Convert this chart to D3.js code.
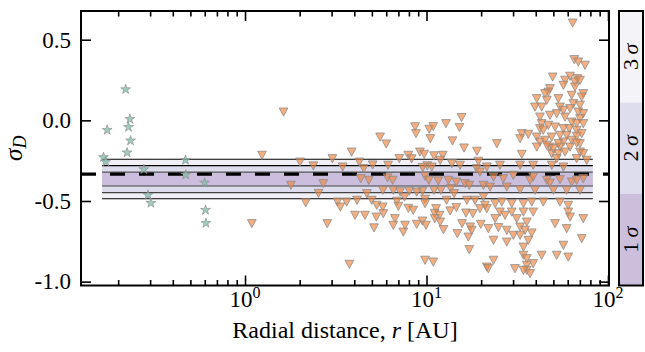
<!DOCTYPE html>
<html><head><meta charset="utf-8">
<script src="https://cdn.jsdelivr.net/npm/d3@7/dist/d3.min.js"></script>
<style>body{margin:0;background:#fff} svg{display:block}</style>
</head><body><svg id="c" width="645" height="352"></svg>
<script>
// ---------- data ----------
const starPoints = [
  [0.220, 0.192],[0.232, 0.008],[0.228,-0.042],[0.174,-0.060],[0.234,-0.126],
  [0.224,-0.200],[0.166,-0.229],[0.171,-0.257],[0.277,-0.304],[0.470,-0.246],
  [0.472,-0.337],[0.599,-0.387],[0.292,-0.463],[0.303,-0.513],[0.606,-0.556],[0.609,-0.637]
];
const trianglePoints = [
  [1.63,0.053],[1.24,-0.215],[2.01,-0.257],[2.38,-0.281],[3.03,-0.236],[3.87,-0.195],
  [1.79,-0.401],[2.70,-0.391],[2.54,-0.451],[2.16,-0.510],[1.09,-0.639],[2.84,-0.639],
  [3.23,-0.505],[3.35,-0.536],[3.63,-0.505],[4.14,-0.494],[4.04,-0.587],[4.58,-0.587],
  [3.45,-0.288],[4.26,-0.257],[4.51,-0.298],[4.34,-0.360],[4.81,-0.370],[5.05,-0.275],
  [3.76,-0.891],[4.69,-0.453],[4.99,-0.494],[5.29,-0.598],[5.14,-0.665],[5.32,-0.525],
  [5.55,-0.102],[6.00,-0.145],[5.78,-0.577],[5.74,-0.536],[6.14,-0.277],[6.10,-0.355],
  [6.51,-0.370],[5.75,-0.432],[6.70,-0.608],[6.56,-0.649],[7.45,-0.691],[7.62,-0.649],
  [7.08,-0.236],[7.94,-0.215],[8.28,-0.237],[8.65,-0.038],[8.75,-0.081],[9.20,-0.195],
  [9.71,-0.209],[6.56,-0.432],[7.15,-0.441],[7.57,-0.474],[8.04,-0.438],[6.87,-0.500],
  [7.00,-0.531],[7.94,-0.544],[8.45,-0.556],[8.83,-0.643],[9.50,-0.623],[9.82,-0.866],
  [10.9,-0.877],[10.35,-0.054],[10.9,-0.037],[10.5,-0.112],[9.82,-0.345],[10.3,-0.370],
  [9.50,-0.438],[9.82,-0.488],[10.1,-0.280],[9.53,-0.291],[10.7,-0.288],[11.0,-0.218],
  [11.0,-0.432],[9.82,-0.515],[11.3,-0.546],[11.1,-0.575],[12.8,-0.019],[15.6,0.019],
  [15.2,-0.043],[13.9,-0.126],[16.1,-0.170],[18.97,-0.190],[12.3,-0.215],[11.9,-0.246],
  [13.8,-0.267],[15.3,-0.277],[16.3,-0.391],[19.3,-0.252],[18.9,-0.298],[11.6,-0.374],
  [13.2,-0.370],[13.6,-0.422],[14.6,-0.381],[17.2,-0.401],[19.7,-0.319],[20.6,-0.401],
  [8.83,-0.443],[12.0,-0.432],[12.9,-0.494],[14.2,-0.453],[16.7,-0.494],[18.5,-0.494],
  [20.6,-0.474],[11.8,-0.587],[13.5,-0.560],[14.6,-0.539],[16.5,-0.573],[18.0,-0.577],
  [19.7,-0.546],[21.5,-0.546],[9.93,-0.649],[11.1,-0.608],[11.9,-0.629],[12.4,-0.676],
  [14.8,-0.701],[15.7,-0.639],[17.4,-0.660],[17.0,-0.722],[17.75,-0.680],[19.9,-0.643],
  [17.2,-0.800],[21.5,-0.908],[24.4,-0.143],
  [63.9,0.605],[65.2,0.378],[68.6,0.363],[74.7,0.343],[49.6,0.270],[58.0,0.250],
  [61.8,0.275],[67.8,0.260],[65.8,0.239],[70.1,0.250],[56.8,0.219],[65.8,0.208],
  [47.9,0.198],[46.9,0.177],[45.0,0.167],[73.1,0.167],[63.1,0.157],[71.7,0.146],
  [40.5,0.136],[53.3,0.136],[46.0,0.126],[64.4,0.105],[70.1,0.095],[39.6,0.084],
  [43.1,0.084],[54.4,0.084],[56.8,0.064],[68.6,0.053],[61.8,0.074],[73.1,0.043],
  [42.2,0.022],[47.9,0.033],[52.2,0.043],[58.0,0.022],[70.1,0.012],[43.1,-0.019],
  [46.9,-0.029],[63.1,-0.009],[67.2,-0.019],[73.1,-0.019],[42.2,-0.050],[51.1,-0.040],
  [56.8,-0.050],[61.2,-0.050],[67.2,-0.060],[33.5,-0.081],[36.4,-0.085],[44.0,-0.060],
  [40.5,-0.102],[49.0,-0.102],[54.4,-0.091],[59.2,-0.091],[67.2,-0.097],[71.7,-0.081],
  [32.8,-0.112],[42.2,-0.133],[45.0,-0.122],[56.8,-0.133],[63.1,-0.122],[70.1,-0.143],
  [40.5,-0.164],[47.9,-0.164],[54.4,-0.164],[61.8,-0.164],
  [33.5,-0.209],[46.0,-0.153],[49.0,-0.205],[53.3,-0.205],[58.0,-0.195],[70.1,-0.195],
  [67.2,-0.139],[53.3,-0.143],[73.1,-0.205],[56.8,-0.288],[49.0,-0.277],[38.7,-0.277],
  [32.8,-0.277],[25.4,-0.277],[21.5,-0.288],[23.4,-0.350],[26.5,-0.360],[30.1,-0.339],
  [37.2,-0.370],[38.7,-0.350],[46.0,-0.370],[47.9,-0.387],[54.4,-0.366],[63.1,-0.381],
  [67.2,-0.370],[73.1,-0.360],[22.4,-0.412],[27.7,-0.412],[32.8,-0.428],[39.6,-0.432],
  [50.0,-0.432],[59.2,-0.432],[70.1,-0.432],[21.0,-0.525],[23.9,-0.515],[26.0,-0.505],
  [29.5,-0.515],[34.2,-0.515],[38.0,-0.505],[44.0,-0.505],[54.4,-0.505],[60.4,-0.525],
  [25.4,-0.567],[23.9,-0.608],[27.1,-0.587],[29.5,-0.567],[31.4,-0.608],[34.2,-0.567],
  [38.7,-0.567],[35.7,-0.629],[60.4,-0.567],[61.8,-0.598],[73.1,-0.608],[21.9,-0.670],
  [24.9,-0.663],[27.7,-0.680],[30.1,-0.711],[32.8,-0.660],[32.8,-0.711],[34.9,-0.680],
  [38.0,-0.697],[51.1,-0.639],[59.2,-0.670],[71.7,-0.732],[23.4,-0.742],[27.7,-0.753],
  [34.2,-0.784],[36.4,-0.742],[56.8,-0.773],[34.2,-0.835],[35.7,-0.856],[43.1,-0.835],
  [52.2,-0.835],[60.4,-0.846],[23.4,-0.866],[21.9,-0.918],[30.7,-0.918],[35.7,-0.897],
  [38.7,-0.887],[35.7,-0.928],[37.2,-0.949],[34.2,-0.928],
  [50.0,-0.174],[52.2,-0.236],[67.2,-0.236],[76.4,-0.246]
];
const bandRange = [0.163, 82.5];
const meanLevel = -0.334;
const sigmaBands = [
  {name:"3", lo:-0.486, hi:-0.241, color:"#f0f0f6"},
  {name:"2", lo:-0.448, hi:-0.281, color:"#dddcec"},
  {name:"1", lo:-0.407, hi:-0.321, color:"#cabedc"}
];
const yTicks = [0.5, 0.0, -0.5, -1.0];
const yTickLabels = ["0.5", "0.0", "-0.5", "-1.0"];
const xMajorTicks = [1, 10, 100];
const xTickExponents = ["0", "1", "2"];
const xMinorTicks = [0.2,0.3,0.4,0.5,0.6,0.7,0.8,0.9,2,3,4,5,6,7,8,9,20,30,40,50,60,70,80,90];
const colorbarLevels = ["3", "2", "1"];
const colorbarColors = ["#f4f4f8", "#dedded", "#cbbfdc"];

// ---------- layout ----------
const L = 81, R = 609, T = 11, B = 285.5;
const FONT = "Liberation Serif";
const svg = d3.select("#c");
const x = d3.scaleLog().domain([0.1248, 101.3]).range([L, R]);
const y = d3.scaleLinear().domain([-1.024, 0.678]).range([B, T]);

// band
const g = svg.append("g");
g.selectAll("rect.band").data(sigmaBands).join("rect")
  .attr("x", x(bandRange[0])).attr("width", x(bandRange[1]) - x(bandRange[0]))
  .attr("y", d => y(d.hi)).attr("height", d => y(d.lo) - y(d.hi))
  .attr("fill", d => d.color);
const lineLevels = [];
sigmaBands.forEach(d => { lineLevels.push({v:d.hi, c: d.name==="1" ? "#555" : "#000"}); lineLevels.push({v:d.lo, c: d.name==="3" ? "#000" : "#444"}); });
g.selectAll("line.lv").data(lineLevels).join("line")
  .attr("x1", x(bandRange[0])).attr("x2", x(bandRange[1]))
  .attr("y1", d => y(d.v)).attr("y2", d => y(d.v))
  .attr("stroke", d => d.c).attr("stroke-width", 1.1);
g.append("line").attr("x1", L).attr("x2", R).attr("y1", y(meanLevel)).attr("y2", y(meanLevel))
  .attr("stroke", "#000").attr("stroke-width", 3.2).attr("stroke-dasharray", "15,14");

// triangles
const tri = "M-4.4,-3.8L4.4,-3.8L0,4.4Z";
svg.append("g").selectAll("path").data(trianglePoints).join("path")
  .attr("d", tri)
  .attr("transform", d => `translate(${x(d[0])},${y(d[1])})`)
  .attr("fill", "#ef8843").attr("fill-opacity", 0.68)
  .attr("stroke", "#8a8a8a").attr("stroke-opacity", 0.75).attr("stroke-width", 1);

// stars
const star = d3.symbol().type(d3.symbolStar).size(30)();
svg.append("g").selectAll("path").data(starPoints).join("path")
  .attr("d", star)
  .attr("transform", d => `translate(${x(d[0])},${y(d[1])})`)
  .attr("fill", "#7dbcaa").attr("fill-opacity", 0.75)
  .attr("stroke", "#8a8a8a").attr("stroke-opacity", 0.8).attr("stroke-width", 0.8);

// axes (ticks inward)
function styleAxis(sel){ sel.select(".domain").remove(); sel.selectAll("line").attr("stroke","#000").attr("stroke-width",1.6); sel.selectAll("text").remove(); }
svg.append("g").attr("transform", `translate(0,${B})`).call(d3.axisBottom(x).tickValues(xMajorTicks).tickSize(-10).tickFormat("")).call(styleAxis);
svg.append("g").attr("transform", `translate(0,${B})`).call(d3.axisBottom(x).tickValues(xMinorTicks).tickSize(-5.5).tickFormat("")).call(styleAxis);
svg.append("g").attr("transform", `translate(0,${T})`).call(d3.axisTop(x).tickValues(xMajorTicks).tickSize(-10).tickFormat("")).call(styleAxis);
svg.append("g").attr("transform", `translate(0,${T})`).call(d3.axisTop(x).tickValues(xMinorTicks).tickSize(-5.5).tickFormat("")).call(styleAxis);
svg.append("g").attr("transform", `translate(${L},0)`).call(d3.axisLeft(y).tickValues(yTicks).tickSize(-10).tickFormat("")).call(styleAxis);
svg.append("g").attr("transform", `translate(${R},0)`).call(d3.axisRight(y).tickValues(yTicks).tickSize(-10).tickFormat("")).call(styleAxis);

// frame
svg.append("rect").attr("x", L).attr("y", T).attr("width", R - L).attr("height", B - T)
  .attr("fill", "none").attr("stroke", "#000").attr("stroke-width", 2);

// y tick labels
svg.append("g").selectAll("text").data(yTicks).join("text")
  .attr("x", 71).attr("y", d => y(d)).attr("dy", "0.34em")
  .attr("text-anchor", "end").style("font-family", FONT).style("font-size", "23px")
  .text((d,i) => yTickLabels[i]);

// x tick labels
const xl = svg.append("g").selectAll("text").data(xMajorTicks).join("text")
  .attr("x", d => x(d)).attr("y", 307)
  .attr("text-anchor", "middle").style("font-family", FONT).style("font-size", "23px");
xl.append("tspan").text("10");
xl.append("tspan").attr("dy", -9).style("font-size", "16px").text((d,i) => xTickExponents[i]);

// axis titles
const xt = svg.append("text").attr("x", (L + R) / 2).attr("y", 338).attr("text-anchor", "middle")
  .style("font-family", FONT).style("font-size", "24px");
xt.append("tspan").text("Radial distance, ");
xt.append("tspan").style("font-style", "italic").text("r");
xt.append("tspan").text(" [AU]");

const yt = svg.append("text").attr("transform", `translate(22,${(T + B) / 2}) rotate(-90)`)
  .attr("text-anchor", "middle").style("font-family", FONT).style("font-size", "25px");
yt.append("tspan").style("font-style", "italic").text("σ");
yt.append("tspan").style("font-style", "italic").style("font-size", "18px").attr("dy", 4).text("D");

// colorbar
const cbX = 619, cbW = 24;
const cb = d3.scaleBand().domain(colorbarLevels).range([T, B]);
svg.append("g").selectAll("rect").data(colorbarLevels).join("rect")
  .attr("x", cbX).attr("width", cbW).attr("y", d => cb(d)).attr("height", cb.bandwidth())
  .attr("fill", (d,i) => colorbarColors[i]);
svg.append("rect").attr("x", cbX).attr("y", T).attr("width", cbW).attr("height", B - T)
  .attr("fill", "none").attr("stroke", "#000").attr("stroke-width", 2);
const cbl = svg.append("g").selectAll("text").data(colorbarLevels).join("text")
  .attr("transform", d => `translate(${cbX + cbW / 2 + 7},${cb(d) + cb.bandwidth() / 2}) rotate(-90)`)
  .attr("text-anchor", "middle").style("font-family", FONT).style("font-size", "22px");
cbl.append("tspan").text(d => d + "\u2009");
cbl.append("tspan").style("font-style", "italic").text("σ");
</script></body></html>
